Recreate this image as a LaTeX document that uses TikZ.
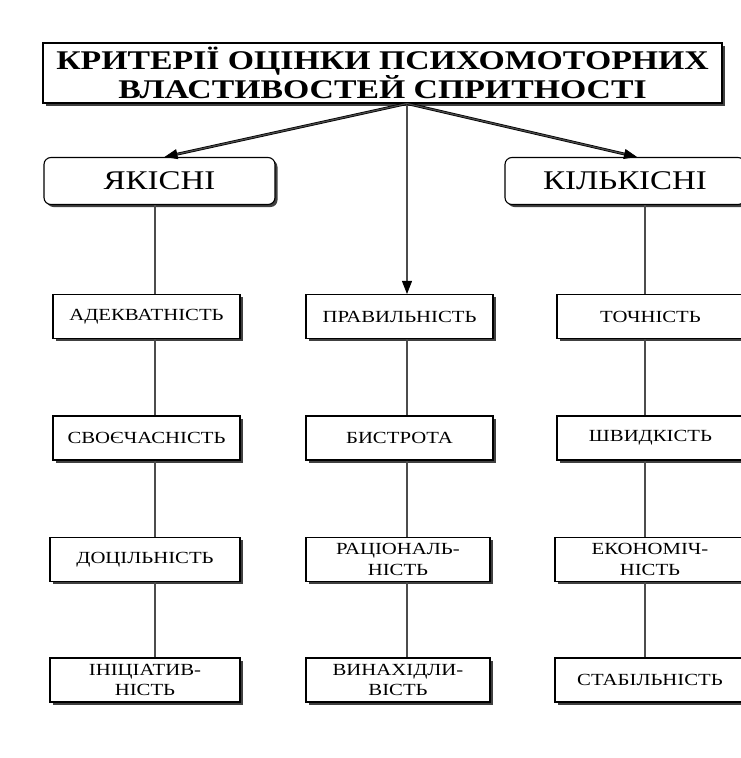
\documentclass[tikz,border=0pt]{standalone}
\usepackage{fontspec}
\setmainfont{Liberation Serif}
\newfontfamily\widefont{Liberation Serif}[FakeStretch=1.22]
\newfontfamily\headfont{Liberation Serif}[FakeStretch=1.25]
\usetikzlibrary{shadows,arrows.meta}

\tikzset{
  x=1pt, y=-1pt,
  boxshadow/.style={drop shadow={shadow xshift=2.5pt, shadow yshift=-2.5pt, fill=black!75, opacity=1}},
  titlebox/.style={draw, line width=1.1pt, fill=white, boxshadow, minimum width=679pt, minimum height=60pt,
    align=center, inner sep=0pt, font=\headfont\fontsize{27}{28}\selectfont\bfseries},
  groupbox/.style={draw, line width=1.1pt, fill=white, rounded corners=7pt, boxshadow, minimum height=47pt,
    inner sep=0pt, font=\widefont\fontsize{27}{29}\selectfont},
  itembox/.style={draw, line width=1.1pt, fill=white, boxshadow, minimum width=187pt, minimum height=44pt,
    align=center, inner sep=0pt, font=\widefont\fontsize{17}{20.5}\selectfont},
  link/.style={draw=black, line width=0.8pt, double=black!70, double distance=1.2pt},
  arrowlink/.style={link, -{Triangle[length=13pt, width=10pt, fill=black]}},
}

\begin{document}
\begin{tikzpicture}
\useasboundingbox (0,0) rectangle (741,758);
\fill[white] (0,0) rectangle (741,758);

% column axes
\coordinate (colL) at (155,0);
\coordinate (colM) at (407,0);
\coordinate (colR) at (645,0);

% header and the two groups
\node[titlebox] (title) at (382.5,73) {КРИТЕРІЇ ОЦІНКИ ПСИХОМОТОРНИХ\\ВЛАСТИВОСТЕЙ СПРИТНОСТІ};
\node[groupbox, minimum width=231pt] (yak) at (159.5,181) {ЯКІСНІ};
\node[groupbox, minimum width=240pt] (kil) at (625,181) {КІЛЬКІСНІ};

% left column
\node[itembox] (l1) at (146.5,316.5) {АДЕКВАТНІСТЬ};
\node[itembox] (l2) at (146.5,438) {СВОЄЧАСНІСТЬ};
\node[itembox, minimum width=190pt] (l3) at (145,559.5) {ДОЦІЛЬНІСТЬ};
\node[itembox, minimum width=190pt] (l4) at (145,680) {ІНІЦІАТИВ-\\НІСТЬ};

% middle column
\node[itembox] (m1) at (399.5,316.5) {ПРАВИЛЬНІСТЬ};
\node[itembox] (m2) at (399.5,438) {БИСТРОТА};
\node[itembox, minimum width=184pt] (m3) at (398,559.5) {РАЦІОНАЛЬ-\\НІСТЬ};
\node[itembox, minimum width=184pt] (m4) at (398,680) {ВИНАХІДЛИ-\\ВІСТЬ};

% right column
\node[itembox] (r1) at (650.5,316.5) {ТОЧНІСТЬ};
\node[itembox] (r2) at (650.5,438) {ШВИДКІСТЬ};
\node[itembox, minimum width=190pt] (r3) at (650,559.5) {ЕКОНОМІЧ-\\НІСТЬ};
\node[itembox, minimum width=190pt] (r4) at (650,680) {СТАБІЛЬНІСТЬ};

% arrows from the header
\coordinate (hub) at (title.south -| colM);
\draw[arrowlink] (hub) -- ([xshift=5pt]yak.north);
\draw[arrowlink] (hub) -- (m1.north -| colM);
\draw[arrowlink] (hub) -- ([xshift=12pt]kil.north);

% vertical links
\draw[link] (yak.south -| colL) -- (l1.north -| colL);
\draw[link] (l1.south -| colL) -- (l2.north -| colL);
\draw[link] (l2.south -| colL) -- (l3.north -| colL);
\draw[link] (l3.south -| colL) -- (l4.north -| colL);

\draw[link] (m1.south -| colM) -- (m2.north -| colM);
\draw[link] (m2.south -| colM) -- (m3.north -| colM);
\draw[link] (m3.south -| colM) -- (m4.north -| colM);

\draw[link] (kil.south -| colR) -- (r1.north -| colR);
\draw[link] (r1.south -| colR) -- (r2.north -| colR);
\draw[link] (r2.south -| colR) -- (r3.north -| colR);
\draw[link] (r3.south -| colR) -- (r4.north -| colR);
\end{tikzpicture}
\end{document}
